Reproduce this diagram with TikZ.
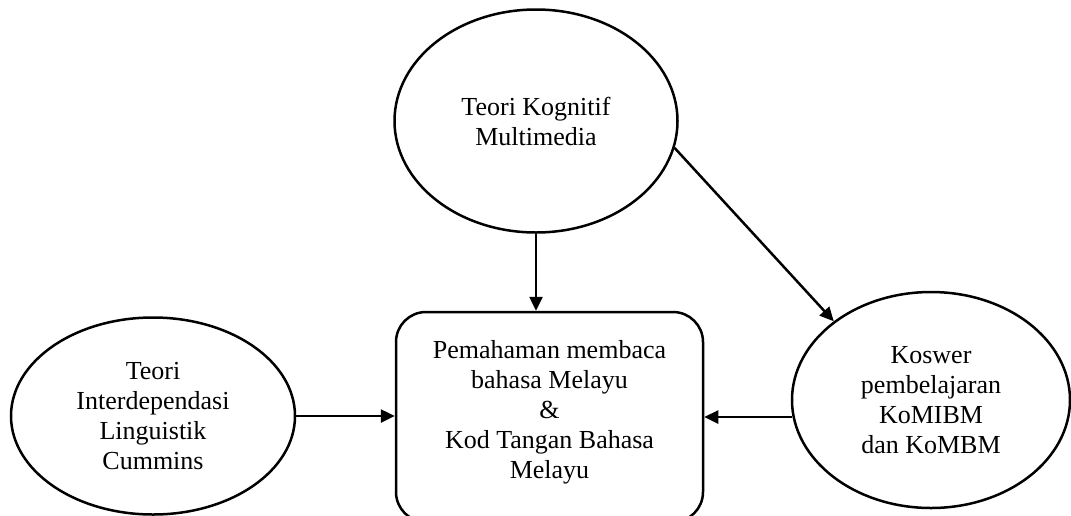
\documentclass[tikz,border=0pt]{standalone}
\usepackage{fontspec}
\setmainfont{Liberation Serif}
\usetikzlibrary{shapes.geometric,arrows.meta}
\begin{document}
\begin{tikzpicture}[x=1pt,y=-1pt,
  every node/.style={font=\fontsize{26}{30}\selectfont, align=center},
  oval/.style={ellipse, draw, line width=2.5pt, inner sep=0pt},
  conn/.style={line width=2.5pt, -{Triangle[length=14pt,width=13pt]}}]
\useasboundingbox (0,0) rectangle (1071,515);
\clip (0,0) rectangle (1071,515);
\node[oval, minimum width=283pt, minimum height=223pt] (top) at (536,121) {Teori Kognitif\\Multimedia};
\node[oval, minimum width=284pt, minimum height=197pt] (left) at (153,416) {Teori\\Interdependasi\\Linguistik\\Cummins};
\node[oval, minimum width=278pt, minimum height=216pt] (right) at (931,400) {Koswer\\pembelajaran\\KoMIBM\\dan KoMBM};
\node[draw, line width=2.5pt, rounded corners=30pt, minimum width=307pt, minimum height=210pt, inner sep=0pt] (box) at (549.5,417) {\raisebox{5pt}[\height][\depth]{\begin{tabular}{@{}c@{}}Pemahaman membaca\\bahasa Melayu\\\&\\Kod Tangan Bahasa\\Melayu\end{tabular}}};
\draw[conn] (top.south) -- (top.south |- box.north);
\draw[conn] (left.east) -- (box.west |- left.east);
\draw[conn] (right.187) -- (box.east |- right.187);
\draw[conn] (top.-11.5) -- (right.141);
\end{tikzpicture}
\end{document}
